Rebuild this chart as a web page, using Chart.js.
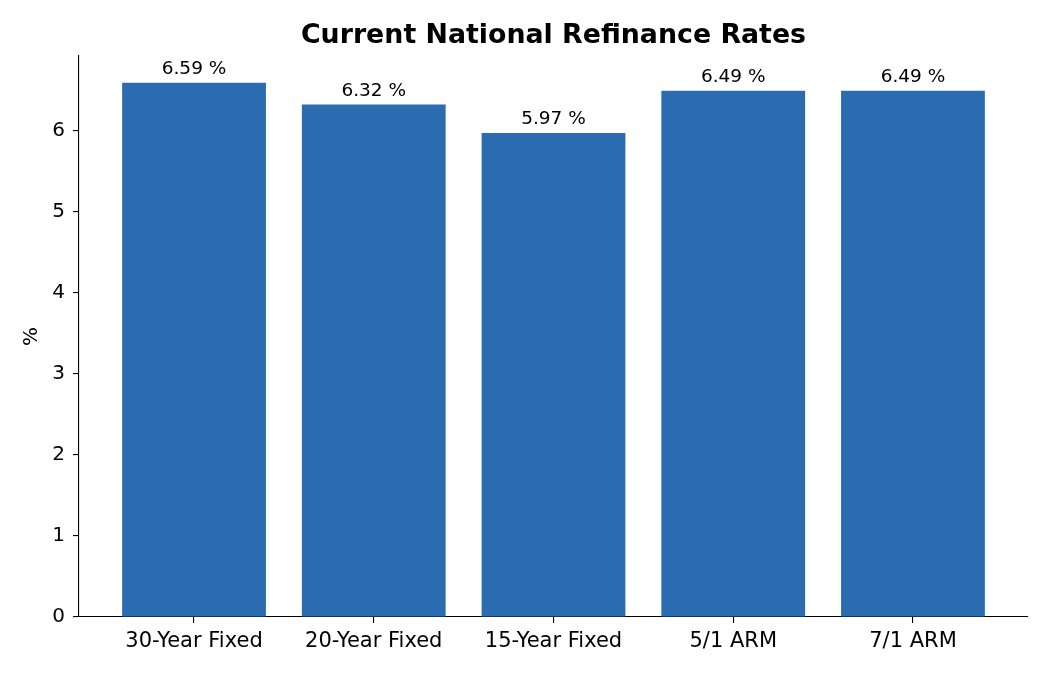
<!DOCTYPE html>
<html>
<head>
<meta charset="utf-8">
<script src="https://cdn.jsdelivr.net/npm/chart.js@4.4.1/dist/chart.umd.min.js"></script>
<style>
  html, body { margin: 0; padding: 0; background: #fff; }
  #wrap { width: 1050px; height: 675px; }
</style>
</head>
<body>
<div id="wrap"><canvas id="myChart" width="1050" height="675"></canvas></div>
<script>
// Dados do gráfico
const titulo = 'Current National Refinance Rates';
const categorias = ['30-Year Fixed', '20-Year Fixed', '15-Year Fixed', '5/1 ARM', '7/1 ARM'];
const taxas = [6.59, 6.32, 5.97, 6.49, 6.49];
const yTicks = [0, 1, 2, 3, 4, 5, 6];

const corBarra = '#2b6cb0';
const fonte = "'DejaVu Sans', sans-serif";

// Escala no estilo matplotlib (margem de 5%)
const xMin = -0.4 - 0.05 * (categorias.length - 0.2);
const xMax = categorias.length - 1 + 0.4 + 0.05 * (categorias.length - 0.2);
const yMax = Math.max(...taxas) * 1.05;

// Rótulos de valor acima das barras + título centrado na área do gráfico
const rotulosPlugin = {
    id: 'rotulos',
    afterDatasetsDraw(chart) {
        const c = chart.ctx;
        const meta = chart.getDatasetMeta(0);
        const area = chart.chartArea;
        c.save();
        c.fillStyle = '#000';
        c.font = '18.5px ' + fonte;
        c.textAlign = 'center';
        c.textBaseline = 'alphabetic';
        meta.data.forEach((bar, i) => {
            c.fillText(taxas[i].toFixed(2) + ' %', bar.x, bar.y - 9);
        });
        c.font = 'bold 26.8px ' + fonte;
        c.fillText(titulo, (area.left + area.right) / 2, 43);
        c.restore();
    }
};

var ctx = document.getElementById('myChart');
var myChart = new Chart(ctx, {
    type: 'bar',
    data: {
        datasets: [{
            data: taxas.map((v, i) => ({ x: i, y: v })),
            backgroundColor: corBarra,
            borderWidth: 0,
            categoryPercentage: 1,
            barPercentage: 0.8
        }]
    },
    options: {
        responsive: false,
        animation: false,
        layout: { padding: { left: 0, right: 22, top: 56, bottom: 0 } },
        plugins: {
            legend: { display: false },
            tooltip: { enabled: false },
            title: { display: false }
        },
        scales: {
            x: {
                type: 'linear',
                min: xMin,
                max: xMax,
                offset: false,
                afterBuildTicks: (scale) => {
                    scale.ticks = categorias.map((_, i) => ({ value: i }));
                },
                afterFit: (scale) => { scale.height = 58; },
                ticks: {
                    color: '#000',
                    font: { family: fonte, size: 21 },
                    padding: 6,
                    maxRotation: 0,
                    autoSkip: false,
                    callback: (v) => categorias[v]
                },
                grid: { offset: false, drawOnChartArea: false, drawTicks: true, tickLength: 6, color: '#000', lineWidth: 1.1 },
                border: { display: true, color: '#000', width: 1.1 }
            },
            y: {
                min: 0,
                max: yMax,
                afterBuildTicks: (scale) => {
                    scale.ticks = yTicks.map(v => ({ value: v }));
                },
                afterFit: (scale) => { scale.width = 79; },
                title: {
                    display: true,
                    text: '%',
                    color: '#000',
                    font: { family: fonte, size: 20 },
                    padding: { top: 20, bottom: 0 }
                },
                ticks: {
                    color: '#000',
                    font: { family: fonte, size: 20 },
                    padding: 8
                },
                grid: { drawOnChartArea: false, drawTicks: true, tickLength: 6, color: '#000', lineWidth: 1.1 },
                border: { display: true, color: '#000', width: 1.1 }
            }
        }
    },
    plugins: [rotulosPlugin]
});
</script>
</body>
</html>
